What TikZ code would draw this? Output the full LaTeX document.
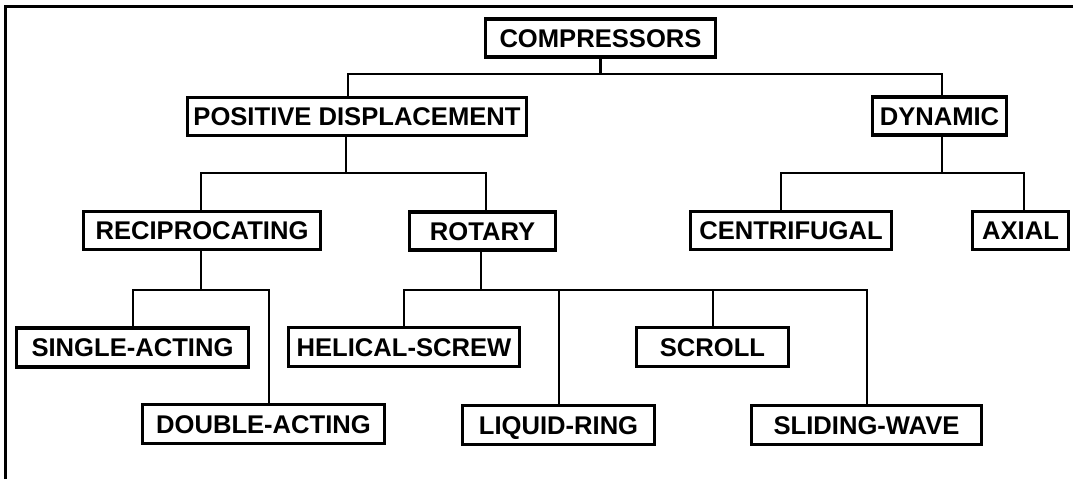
\documentclass[tikz,border=0pt]{standalone}
\usepackage{fontspec}
\setmainfont{Liberation Sans}
\usetikzlibrary{calc}
\begin{document}
\begin{tikzpicture}[x=1pt,y=-1pt,
  box/.style={draw=black,line width=3.2pt,fill=white,inner sep=0pt,
    minimum height=38pt,text height=18.3pt,text depth=0pt,
    font=\fontsize{25.6}{30}\selectfont\bfseries},
  conn/.style={draw=black,line width=2.9pt},
  frame/.style={draw=black,line width=3pt}]
\useasboundingbox (0,0) rectangle (1073,479);
\draw[frame] (5,479) -- (5,6) -- (1073,6);
% bus levels
\coordinate (L1) at (0,74);
\coordinate (L2) at (0,173);
\coordinate (L3) at (0,290);
% nodes
\node[box,minimum width=230pt] (comp) at (600.5,38) {COMPRESSORS};
\node[box,minimum width=339pt] (pd) at (357,116.5) {POSITIVE DISPLACEMENT};
\node[box,minimum width=134pt] (dyn) at (939.5,116) {DYNAMIC};
\node[box,minimum width=237pt] (recip) at (202,230.5) {RECIPROCATING};
\node[box,minimum width=146pt] (rot) at (482.5,231) {ROTARY};
\node[box,minimum width=201pt] (cent) at (791,230.5) {CENTRIFUGAL};
\node[box,minimum width=96pt] (axial) at (1020.5,230.5) {AXIAL};
\node[box,minimum width=232pt,minimum height=39pt] (single) at (132.5,347.5) {SINGLE-ACTING};
\node[box,minimum width=231pt,minimum height=39pt] (helical) at (404,347) {HELICAL-SCREW};
\node[box,minimum width=152pt,minimum height=39pt] (scroll) at (712.5,347) {SCROLL};
\node[box,minimum width=242pt,minimum height=39pt] (double) at (263.5,424) {DOUBLE-ACTING};
\node[box,minimum width=192pt,minimum height=39pt] (liquid) at (558.5,425) {LIQUID-RING};
\node[box,minimum width=230pt,minimum height=39pt] (sliding) at (866.5,425) {SLIDING-WAVE};
% connectors level 1
\draw[conn] (comp.south) -- (comp.south |- L1);
\draw[conn] ([xshift=-9pt]pd.north) -- ([xshift=-9pt]pd.north |- L1)
  -- ([xshift=2.5pt]dyn.north |- L1) -- ([xshift=2.5pt]dyn.north);
% positive displacement
\draw[conn] ([xshift=-11pt]pd.south) -- ([xshift=-11pt]pd.south |- L2);
\draw[conn] ([xshift=-1pt]recip.north) -- ([xshift=-1pt]recip.north |- L2)
  -- ([xshift=3.5pt]rot.north |- L2) -- ([xshift=3.5pt]rot.north);
% dynamic
\draw[conn] ([xshift=2.5pt]dyn.south) -- ([xshift=2.5pt]dyn.south |- L2);
\draw[conn] ([xshift=-10pt]cent.north) -- ([xshift=-10pt]cent.north |- L2)
  -- ([xshift=3.5pt]axial.north |- L2) -- ([xshift=3.5pt]axial.north);
% reciprocating
\draw[conn] ([xshift=-1pt]recip.south) -- ([xshift=-1pt]recip.south |- L3);
\draw[conn] ([xshift=0.5pt]single.north) -- ([xshift=0.5pt]single.north |- L3)
  -- ([xshift=5.5pt]double.north |- L3) -- ([xshift=5.5pt]double.north);
% rotary
\draw[conn] ([xshift=-1.5pt]rot.south) -- ([xshift=-1.5pt]rot.south |- L3);
\draw[conn] (helical.north) -- (helical.north |- L3)
  -- ([xshift=0.5pt]sliding.north |- L3) -- ([xshift=0.5pt]sliding.north);
\draw[conn] ([xshift=0.5pt]liquid.north) -- ([xshift=0.5pt]liquid.north |- L3);
\draw[conn] ([xshift=0.5pt]scroll.north) -- ([xshift=0.5pt]scroll.north |- L3);
\end{tikzpicture}
\end{document}
